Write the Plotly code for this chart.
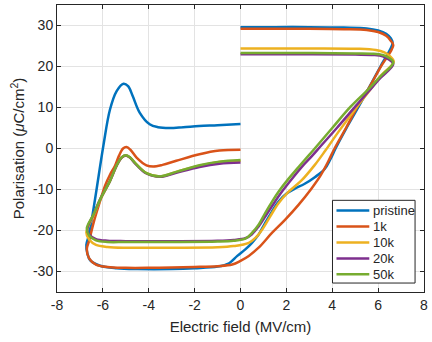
import plotly.graph_objects as go

# ---- data ----
series_names = ["pristine", "1k", "10k", "20k", "50k"]
series_colors = ["#0072BD", "#D95319", "#EDB120", "#7E2F8E", "#77AC30"]

pristine_E = [0, -1.0, -1.8, -2.5, -3.1, -3.6, -3.96, -4.39, -4.7, -4.9, -5.1, -5.4, -5.69, -5.98, -6.34, -6.6, -6.72,
              -6.68, -6.55, -6.12, -5.4, -4.5, -3.0, -2.0, -1.0, -0.5, -0.14, 0.21, 0.5, 0.79, 1.07, 1.37, 1.65,
              2.01, 2.37, 2.8, 3.24, 3.67, 3.92, 4.16, 4.6, 5.15, 5.58, 6.1, 6.63,
              6.55, 6.35, 6.0, 5.5, 4.5, 3.0, 1.5, 0]
pristine_P = [6.0, 5.7, 5.5, 5.2, 5.0, 5.2, 5.9, 8.7, 12.8, 15.2, 15.8, 14.0, 9.5, 0.6, -12.3, -21.0, -23.5,
              -25.5, -27.3, -28.6, -29.2, -29.4, -29.4, -29.2, -28.8, -28.0, -26.2, -24.6, -23.0, -21.0, -18.2, -15.4, -13.0,
              -11.0, -9.8, -8.6, -7.0, -5.0, -2.6, 0.2, 4.8, 10.2, 14.6, 20.0, 25.7,
              26.9, 28.0, 28.8, 29.3, 29.5, 29.6, 29.6, 29.6]

k1_E = [0, -0.92, -1.79, -2.8, -3.4, -3.81, -4.1, -4.53, -4.8, -4.97, -5.12, -5.3, -5.47, -5.69, -5.9, -6.12, -6.4, -6.6, -6.7,
        -6.6, -6.3, -5.8, -5.0, -4.0, -3.0, -2.0, -1.0, -0.36, 0, 0.36, 0.79, 1.37, 1.94, 2.52, 3.09, 3.5, 3.84,
        4.1, 4.6, 5.08, 5.58, 6.1, 6.66,
        6.55, 6.35, 6.0, 5.5, 4.5, 3.0, 1.5, 0]
k1_P = [-0.3, -0.5, -1.4, -3.0, -4.0, -4.4, -4.1, -2.2, -0.3, 0.35, 0.0, -1.8, -4.2, -6.4, -9.0, -12.8, -18.0, -22.5, -24.5,
        -26.8, -28.3, -28.9, -29.1, -29.1, -29.0, -28.9, -28.7, -28.3, -27.4, -26.2, -24.2, -20.6, -17.4, -13.8, -9.8, -6.5, -3.0,
        0.0, 5.0, 10.0, 14.6, 19.8, 25.2,
        26.3, 27.5, 28.4, 28.9, 29.1, 29.2, 29.2, 29.2]

k10_E = [0, -0.92, -1.79, -2.8, -3.5, -4.1, -4.6, -4.82, -5.0, -5.18, -5.4, -5.69, -6.12, -6.4, -6.72,
         -6.6, -6.3, -5.8, -5.0, -3.0, -1.0, -0.3, 0.36, 0.65, 0.94, 1.29, 1.65, 2.09, 2.66, 3.24, 3.7,
         4.3, 5.0, 5.58, 6.1, 6.68,
         6.5, 6.25, 5.9, 5.2, 3.0, 0]
k10_P = [-3.0, -3.3, -4.2, -5.7, -6.8, -6.0, -3.5, -2.2, -1.7, -2.2, -4.2, -7.9, -12.6, -16.3, -20.5,
         -22.2, -23.5, -24.0, -24.2, -24.2, -24.1, -23.8, -23.0, -21.8, -19.8, -16.6, -13.4, -10.6, -7.8, -4.0, -0.5,
         4.3, 9.6, 13.8, 17.6, 21.2,
         22.6, 23.5, 24.0, 24.3, 24.4, 24.4]

k20_E = [0, -0.92, -1.79, -2.8, -3.5, -4.1, -4.6, -4.82, -5.0, -5.18, -5.4, -5.69, -6.12, -6.4, -6.68,
         -6.6, -6.3, -5.8, -5.0, -3.0, -1.0, -0.3, 0.21, 0.5, 0.79, 1.1, 1.45, 1.85, 2.3, 2.75, 3.12, 3.5,
         4.2, 5.0, 5.58, 6.1, 6.66,
         6.45, 6.2, 5.8, 5.0, 3.0, 0]
k20_P = [-3.4, -3.7, -4.5, -5.9, -6.9, -6.1, -3.6, -2.2, -1.7, -2.2, -4.2, -7.9, -12.4, -16.0, -19.6,
         -21.0, -22.1, -22.5, -22.6, -22.6, -22.5, -22.3, -21.9, -20.9, -19.0, -16.4, -13.4, -10.2, -7.0, -4.0, -1.8, 0.6,
         5.0, 10.2, 13.9, 17.2, 20.6,
         21.8, 22.5, 22.8, 22.9, 23.0, 23.0]

k50_E = [0, -0.92, -1.79, -2.8, -3.5, -4.1, -4.6, -4.82, -5.0, -5.18, -5.4, -5.69, -6.12, -6.4, -6.7,
         -6.6, -6.3, -5.8, -5.0, -3.0, -1.0, -0.3, 0.21, 0.5, 0.79, 1.07, 1.37, 1.65, 2.09, 2.52, 2.86, 3.19,
         4.0, 4.8, 5.58, 6.1, 6.66,
         6.45, 6.2, 5.8, 5.0, 3.0, 0]
k50_P = [-2.8, -3.2, -4.1, -5.7, -6.8, -6.0, -3.5, -2.15, -1.65, -2.15, -4.1, -7.9, -12.4, -16.0, -19.5,
         -21.2, -22.4, -22.8, -22.8, -22.8, -22.7, -22.5, -22.0, -20.6, -18.6, -15.8, -13.0, -10.6, -7.4, -4.6, -2.4, -0.3,
         5.0, 10.2, 14.5, 17.6, 21.0,
         22.2, 22.8, 23.1, 23.2, 23.3, 23.3]

x_ticks = [-8, -6, -4, -2, 0, 2, 4, 6, 8]
y_ticks = [-30, -20, -10, 0, 10, 20, 30]

all_E = [pristine_E, k1_E, k10_E, k20_E, k50_E]
all_P = [pristine_P, k1_P, k10_P, k20_P, k50_P]

FONT = "Liberation Sans, Arial, Helvetica, sans-serif"
TXT = "#262626"

W, H = 432, 342
ML, MR, MT, MB = 57, 6, 4, 50
PW, PH = W - ML - MR, H - MT - MB


def px_x(px):
    return (px - ML) / PW


def px_y(py):
    return (H - MB - py) / PH


fig = go.Figure()
for name, color, E, P in zip(series_names, series_colors, all_E, all_P):
    fig.add_trace(go.Scatter(
        x=E, y=P, name=name, mode="lines", showlegend=False,
        line=dict(color=color, width=2.5, shape="spline", smoothing=1.0),
    ))

# legend box (MATLAB style) built from the series names/colours
shapes = [dict(type="rect", xref="paper", yref="paper",
               x0=px_x(334), x1=px_x(417), y0=px_y(283), y1=px_y(200),
               line=dict(color=TXT, width=1), fillcolor="white", layer="above")]
annotations = []
for i, (name, color) in enumerate(zip(series_names, series_colors)):
    yc = 210.3 + 16.0 * i
    shapes.append(dict(type="line", xref="paper", yref="paper",
                       x0=px_x(338), x1=px_x(371), y0=px_y(yc), y1=px_y(yc),
                       line=dict(color=color, width=2.5), layer="above"))
    annotations.append(dict(xref="paper", yref="paper", x=px_x(373), y=px_y(yc),
                            xanchor="left", yanchor="middle", text=name, showarrow=False,
                            font=dict(family=FONT, size=13, color=TXT)))

axis_common = dict(
    showgrid=True, gridcolor="#e3e3e3", gridwidth=1,
    showline=True, linecolor=TXT, linewidth=1, mirror="ticks",
    ticks="inside", ticklen=4, tickcolor=TXT, tickwidth=1,
    zeroline=False,
    tickfont=dict(family=FONT, size=14, color=TXT),
)

fig.update_layout(
    width=W, height=H,
    margin=dict(l=ML, r=MR, t=MT, b=MB),
    paper_bgcolor="white", plot_bgcolor="white",
    font=dict(family=FONT, size=14, color=TXT),
    xaxis=dict(range=[-8, 8], tickvals=x_ticks, ticktext=[str(v) for v in x_ticks],
               title=dict(text="Electric field (MV/cm)", font=dict(family=FONT, size=15, color=TXT), standoff=9),
               **axis_common),
    yaxis=dict(range=[-35, 35], tickvals=y_ticks, ticktext=[str(v) for v in y_ticks],
               title=dict(text="Polarisation (<i>μ</i>C/cm<sup>2</sup>)", font=dict(family=FONT, size=15, color=TXT), standoff=4),
               **axis_common),
    shapes=shapes,
    annotations=annotations,
    showlegend=False,
)

fig.write_html("out.html")
